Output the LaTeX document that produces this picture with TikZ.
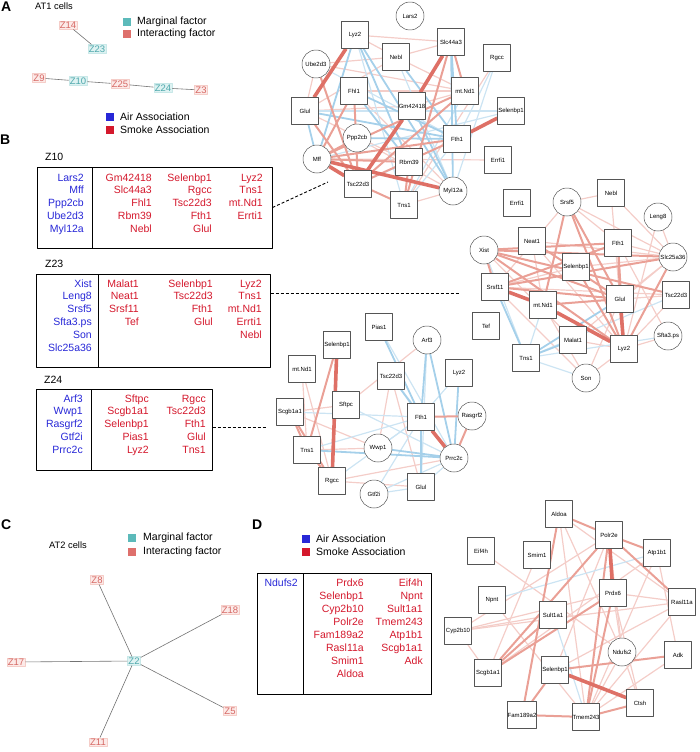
\documentclass[tikz,border=0pt]{standalone}
\usepackage{fontspec}
\setmainfont{Liberation Sans}
\usetikzlibrary{backgrounds}
\definecolor{zred}{RGB}{214,104,100}
\definecolor{zredfill}{RGB}{252,234,232}
\definecolor{zredline}{RGB}{245,205,200}
\definecolor{zteal}{RGB}{78,168,172}
\definecolor{ztealfill}{RGB}{222,242,242}
\definecolor{ztealline}{RGB}{200,232,232}
\definecolor{lteal}{RGB}{92,186,186}
\definecolor{lred}{RGB}{222,112,108}
\definecolor{airblue}{RGB}{40,40,215}
\definecolor{smokered}{RGB}{212,24,44}
\definecolor{ered}{RGB}{222,112,102}
\definecolor{emid}{RGB}{234,160,150}
\definecolor{elight}{RGB}{244,205,200}
\definecolor{eblue}{RGB}{165,208,234}
\definecolor{eblight}{RGB}{204,228,243}
\definecolor{nodegray}{RGB}{85,85,85}
\begin{document}
\begin{tikzpicture}[x=1pt, y=-1pt, line join=round]
\useasboundingbox (0,0) rectangle (700,752);
\tikzstyle{gbox} = [rectangle, draw=nodegray, fill=white, line width=0.5pt, minimum size=27pt, inner sep=0pt, font=\fontsize{6}{7}\selectfont]
\tikzstyle{gcirc} = [circle, draw=nodegray, fill=white, line width=0.5pt, minimum size=28pt, inner sep=0pt, font=\fontsize{6}{7}\selectfont]
\tikzstyle{gtxt} = [anchor=east, inner sep=0pt, text height=8pt, text depth=2pt, font=\fontsize{10.5}{12}\selectfont]
\tikzstyle{ltxt} = [anchor=west, inner sep=0pt, font=\fontsize{10.5}{12}\selectfont]
\tikzstyle{lsq} = [minimum size=8pt, inner sep=0pt]
\tikzstyle{tframe} = [draw, line width=1pt, inner sep=0pt]
\tikzstyle{zr} = [draw=zredline, fill=zredfill, text=zred, inner sep=1pt, font=\fontsize{9.5}{10}\selectfont]
\tikzstyle{zt} = [draw=ztealline, fill=ztealfill, text=zteal, inner sep=1pt, font=\fontsize{9.5}{10}\selectfont]
\tikzstyle{plet} = [anchor=west, inner sep=0pt, font=\fontsize{14}{15}\selectfont\bfseries]
\tikzstyle{e1} = [ered, line width=3.6pt]
\tikzstyle{e2} = [emid, line width=2pt]
\tikzstyle{e3} = [elight, line width=1.2pt]
\tikzstyle{b2} = [eblue, line width=1.8pt]
\tikzstyle{b3} = [eblight, line width=1.2pt]
\tikzstyle{zline} = [gray!90!black, line width=0.6pt]
\tikzstyle{dline} = [dashed, dash pattern=on 3pt off 2pt, line width=0.9pt]

\node[plet] (lA) at (1,7) {A};
\node[plet] (lB) at (0,140) {B};
\node[plet] (lC) at (1,525) {C};
\node[plet] (lD) at (252,525) {D};

\node[ltxt, font=\fontsize{9.3}{11}\selectfont] (at1) at (35,6) {AT1 cells};
\node[lsq, fill=lteal] (A-mk) at (127,22) {};
\node[ltxt] (A-mt) at (137,22) {Marginal factor};
\node[lsq, fill=lred] (A-ik) at (127,34) {};
\node[ltxt] (A-it) at (137,34) {Interacting factor};

\node[zr] (Z14) at (68,25) {Z14};
\node[zt] (Z23) at (97,49) {Z23};
\node[zr] (Z9) at (39,78) {Z9};
\node[zt] (Z10) at (78,81) {Z10};
\node[zr] (Z25) at (120,84) {Z25};
\node[zt] (Z24) at (163,88) {Z24};
\node[zr] (Z3) at (201,90) {Z3};
\foreach \a/\b in {Z14/Z23, Z9/Z10, Z10/Z25, Z25/Z24, Z24/Z3}
	\draw[zline] (\a) -- (\b);

\node[lsq, fill=airblue] (A-ak) at (110,117) {};
\node[ltxt] (A-at) at (120,117) {Air Association};
\node[lsq, fill=smokered] (A-sk) at (110,130) {};
\node[ltxt] (A-st) at (120,130) {Smoke Association};

% Z10 table
\node[ltxt] (H10) at (45,157) {Z10};
\node[tframe, minimum width=235pt, minimum height=81pt] (T10) at (154.5,207.5) {};
\draw[line width=1pt] (92,167) -- (92,248);
\foreach \index/\gene in {1/Lars2, 2/Mff, 3/Ppp2cb, 4/Ube2d3, 5/Myl12a}
	\node[gtxt, text=airblue] (T10-a\index) at (84, 165.2 + 12.8*\index) {\gene};
\foreach \index/\gene in {1/Gm42418, 2/Slc44a3, 3/Fhl1, 4/Rbm39, 5/Nebl}
	\node[gtxt, text=smokered] (T10-b\index) at (152, 165.2 + 12.8*\index) {\gene};
\foreach \index/\gene in {1/Selenbp1, 2/Rgcc, 3/Tsc22d3, 4/Fth1, 5/Glul}
	\node[gtxt, text=smokered] (T10-c\index) at (212, 165.2 + 12.8*\index) {\gene};
\foreach \index/\gene in {1/Lyz2, 2/Tns1, 3/mt.Nd1, 4/Errti1}
	\node[gtxt, text=smokered] (T10-d\index) at (263, 165.2 + 12.8*\index) {\gene};

% Z23 table
\node[ltxt] (H23) at (45,264) {Z23};
\node[tframe, minimum width=234pt, minimum height=93pt] (T23) at (153,320.5) {};
\draw[line width=1pt] (98,274) -- (98,367);
\foreach \index/\gene in {1/Xist, 2/Leng8, 3/Srsf5, 4/Sfta3.ps, 5/Son, 6/Slc25a36}
	\node[gtxt, text=airblue] (T23-a\index) at (92, 271.2 + 12.8*\index) {\gene};
\foreach \index/\gene in {1/Malat1, 2/Neat1, 3/Srsf11, 4/Tef}
	\node[gtxt, text=smokered] (T23-b\index) at (139, 271.2 + 12.8*\index) {\gene};
\foreach \index/\gene in {1/Selenbp1, 2/Tsc22d3, 3/Fth1, 4/Glul}
	\node[gtxt, text=smokered] (T23-c\index) at (213, 271.2 + 12.8*\index) {\gene};
\foreach \index/\gene in {1/Lyz2, 2/Tns1, 3/mt.Nd1, 4/Errti1, 5/Nebl}
	\node[gtxt, text=smokered] (T23-d\index) at (262, 271.2 + 12.8*\index) {\gene};

% Z24 table
\node[ltxt] (H24) at (44,380) {Z24};
\node[tframe, minimum width=176pt, minimum height=81pt] (T24) at (124,429.5) {};
\draw[line width=1pt] (91,389) -- (91,470);
\foreach \index/\gene in {1/Arf3, 2/Wwp1, 3/Rasgrf2, 4/Gtf2i, 5/Prrc2c}
	\node[gtxt, text=airblue] (T24-a\index) at (83, 386.2 + 12.8*\index) {\gene};
\foreach \index/\gene in {1/Sftpc, 2/Scgb1a1, 3/Selenbp1, 4/Pias1, 5/Lyz2}
	\node[gtxt, text=smokered] (T24-b\index) at (149, 386.2 + 12.8*\index) {\gene};
\foreach \index/\gene in {1/Rgcc, 2/Tsc22d3, 3/Fth1, 4/Glul, 5/Tns1}
	\node[gtxt, text=smokered] (T24-c\index) at (206, 386.2 + 12.8*\index) {\gene};

% network Z10
\foreach \gene/\x/\y in {Lyz2/355/35, Nebl/396/57, Slc44a3/451/42, Rgcc/497/58, Fhl1/354/91, Glul/305/111, Gm42418/412/106, Selenbp1/511/111, Fth1/457/139, Rbm39/409/162, Errfi1/498/160, Tsc22d3/358/184, Tns1/404/205}
	\node[gbox] (A-\gene) at (\x,\y) {\gene};
\node[gbox] (A-mtNd1) at (465,91) {mt.Nd1};
\foreach \gene/\x/\y in {Lars2/410/16, Ube2d3/316/64, Ppp2cb/357/138, Mff/317/159, Myl12a/453/191}
	\node[gcirc] (A-\gene) at (\x,\y) {\gene};
\begin{scope}[on background layer]
\foreach \a/\b in {Lyz2/Nebl, Nebl/mtNd1, Nebl/Slc44a3, Ube2d3/Nebl, Ube2d3/mtNd1, Fhl1/mtNd1, Glul/Nebl, Rgcc/Tns1, Myl12a/Tns1, Mff/Errfi1, Glul/Gm42418, Ube2d3/Glul, Lyz2/Slc44a3, Fhl1/Myl12a, Ppp2cb/Myl12a, Glul/Rbm39, Gm42418/mtNd1}
	\draw[e3] (A-\a) -- (A-\b);
\foreach \a/\b in {Glul/Selenbp1, Rgcc/Fth1, Tsc22d3/Rbm39, mtNd1/Tns1, Fth1/Tns1, Mff/Selenbp1, Nebl/Myl12a, Lyz2/Tns1, Ube2d3/Fth1, Rgcc/Myl12a}
	\draw[b3] (A-\a) -- (A-\b);
\foreach \a/\b in {Lyz2/Myl12a, Lyz2/Rbm39, Fhl1/Fth1, Glul/Fth1, Glul/Mff, Slc44a3/Fth1, Slc44a3/Myl12a, Nebl/Fth1, Gm42418/Myl12a, Ppp2cb/Fth1, Lyz2/Mff, Fhl1/Rbm39}
	\draw[b2] (A-\a) -- (A-\b);
\foreach \a/\b in {Mff/Rbm39, Mff/Fth1, Tsc22d3/mtNd1, Tsc22d3/Fth1, Slc44a3/mtNd1, Glul/Tsc22d3, Mff/Fhl1, Fhl1/Tsc22d3, Tsc22d3/Tns1, mtNd1/Mff, Ube2d3/Tsc22d3, Mff/Ppp2cb, Rbm39/Tns1, Slc44a3/Tns1}
	\draw[e2] (A-\a) -- (A-\b);
\foreach \a/\b in {Lyz2/Glul, Slc44a3/Gm42418, Gm42418/Tsc22d3, Selenbp1/Fth1, Mff/Myl12a, Mff/Tsc22d3}
	\draw[e1] (A-\a) -- (A-\b);
\end{scope}

% network Z23
\foreach \gene/\x/\y in {Errfi1/517/203, Nebl/611/193, Neat1/532/241, Fth1/618/243, Selenbp1/576/267, Srsf11/495/287, Tsc22d3/676/295, Glul/620/299, Tef/486/326, Malat1/573/340, Lyz2/624/349, Tns1/526/358}
	\node[gbox] (B-\gene) at (\x,\y) {\gene};
\node[gbox] (B-mtNd1) at (543,305) {mt.Nd1};
\foreach \gene/\x/\y in {Srsf5/567/202, Leng8/658/217, Xist/484/250, Slc25a36/673/257, Son/586/378}
	\node[gcirc] (B-\gene) at (\x,\y) {\gene};
\node[gcirc] (B-Sfta3ps) at (668,336) {Sfta3.ps};
\begin{scope}[on background layer]
\foreach \a/\b in {Neat1/Lyz2, Neat1/Slc25a36, Srsf5/Srsf11, Srsf5/Slc25a36, Srsf5/Fth1, Selenbp1/Slc25a36, Fth1/Slc25a36, Slc25a36/Glul, Lyz2/Sfta3ps, Lyz2/Son, Malat1/Lyz2, Tsc22d3/Lyz2, Nebl/Slc25a36, Nebl/Lyz2, Leng8/Slc25a36, Leng8/Lyz2, Son/Srsf11, Son/mtNd1, Son/Glul, Xist/Malat1, mtNd1/Tsc22d3, Srsf11/Tsc22d3, Malat1/Slc25a36, Selenbp1/Srsf11, Neat1/mtNd1, Srsf5/Nebl, Fth1/Sfta3ps}
	\draw[e3] (B-\a) -- (B-\b);
\foreach \a/\b in {Tns1/Xist, Tns1/Tsc22d3, Tns1/Son, Tns1/mtNd1, Tns1/Sfta3ps}
	\draw[b3] (B-\a) -- (B-\b);
\foreach \a/\b in {Tns1/Srsf11, Tns1/Malat1, Tns1/Glul}
	\draw[b2] (B-\a) -- (B-\b);
\foreach \a/\b in {Fth1/Glul, Srsf5/Glul, Srsf5/Lyz2, Xist/Glul, Xist/Slc25a36, Xist/Fth1, Srsf11/Fth1, Srsf11/Slc25a36, Srsf11/Glul, mtNd1/Glul, Xist/Lyz2, Slc25a36/Lyz2, Fth1/Lyz2, Neat1/Glul, Selenbp1/Lyz2, Xist/Srsf11, Srsf5/mtNd1, Xist/Tsc22d3}
	\draw[e2] (B-\a) -- (B-\b);
\foreach \a/\b in {Srsf11/mtNd1, mtNd1/Lyz2, Glul/Lyz2}
	\draw[e1] (B-\a) -- (B-\b);
\end{scope}

% network Z24
\begin{scope}[every node/.append style={minimum size=25pt, font=\fontsize{5.5}{6}\selectfont}]
\foreach \gene/\x/\y in {Pias1/379/327, Selenbp1/337/345, Tsc22d3/391/376, Lyz2/459/373, Sftpc/346/405, Scgb1a1/290/412, Fth1/421/417, Tns1/307/450, Rgcc/332/481, Glul/421/487}
	\node[gbox] (C-\gene) at (\x,\y) {\gene};
\node[gbox] (C-mtNd1) at (302,369) {mt.Nd1};
\foreach \gene/\x/\y in {Arf3/427/340, Rasgrf2/472/416, Wwp1/378/448, Prrc2c/454/458, Gtf2i/374/494}
	\node[gcirc] (C-\gene) at (\x,\y) {\gene};
\end{scope}
\begin{scope}[on background layer]
\foreach \a/\b in {mtNd1/Tns1, mtNd1/Rgcc, Sftpc/Arf3, Tsc22d3/Glul, Rgcc/Glul, Rgcc/Prrc2c, Tns1/Wwp1, Wwp1/Tsc22d3, Scgb1a1/Wwp1, Sftpc/Scgb1a1}
	\draw[e3] (C-\a) -- (C-\b);
\foreach \a/\b in {Arf3/Glul, Lyz2/Fth1, Fth1/Tns1, Fth1/Scgb1a1, Gtf2i/Fth1, Gtf2i/Prrc2c, Gtf2i/Glul, Rgcc/Fth1, Wwp1/Fth1, Tsc22d3/Prrc2c, Pias1/Prrc2c, Sftpc/Prrc2c, Glul/Prrc2c}
	\draw[b3] (C-\a) -- (C-\b);
\foreach \a/\b in {Pias1/Fth1, Tsc22d3/Fth1, Arf3/Fth1, Arf3/Prrc2c, Lyz2/Prrc2c, Wwp1/Prrc2c, Tns1/Prrc2c, Fth1/Glul}
	\draw[b2] (C-\a) -- (C-\b);
\foreach \a/\b in {Fth1/Rasgrf2, Rasgrf2/Prrc2c, Selenbp1/Tns1, Scgb1a1/Rgcc, Scgb1a1/Tns1, Tns1/Rgcc}
	\draw[e2] (C-\a) -- (C-\b);
\foreach \a/\b in {Selenbp1/Rgcc, Fth1/Prrc2c}
	\draw[e1] (C-\a) -- (C-\b);
\end{scope}

\coordinate (k10) at (328,182);
\coordinate (k23) at (460,293);
\coordinate (k24) at (266,427);
\draw[dline] (T10.east) -- (k10);
\draw[dline] (T23.east |- k23) -- (k23);
\draw[dline] (T24.east |- k24) -- (k24);

% panel C
\node[ltxt, font=\fontsize{9.3}{11}\selectfont] (at2) at (49,545) {AT2 cells};
\node[lsq, fill=lteal] (C-mk) at (132,538) {};
\node[ltxt] (C-mt) at (143,538) {Marginal factor};
\node[lsq, fill=lred] (C-ik) at (132,552) {};
\node[ltxt] (C-it) at (143,552) {Interacting factor};
\begin{scope}[every node/.append style={font=\fontsize{10.5}{11}\selectfont}]
\node[zt] (Z2) at (134,661) {Z2};
\node[zr] (Z8) at (97,580) {Z8};
\node[zr] (Z18) at (230,610) {Z18};
\node[zr] (Z17) at (16,662) {Z17};
\node[zr] (Z5) at (230,711) {Z5};
\node[zr] (Z11) at (98,742) {Z11};
\end{scope}
\foreach \a in {Z8, Z18, Z17, Z5, Z11}
	\draw[zline] (Z2) -- (\a);

% panel D
\node[lsq, fill=airblue] (D-ak) at (306,539) {};
\node[ltxt] (D-at) at (316,539) {Air Association};
\node[lsq, fill=smokered] (D-sk) at (306,552) {};
\node[ltxt] (D-st) at (316,552) {Smoke Association};
\node[tframe, minimum width=174pt, minimum height=121pt] (TD) at (344,633.5) {};
\draw[line width=1pt] (303,573) -- (303,694);
\node[gtxt, text=airblue] (TD-a1) at (298,583) {Ndufs2};
\foreach \index/\gene in {1/Prdx6, 2/Selenbp1, 3/Cyp2b10, 4/Polr2e, 5/Fam189a2, 6/Rasl11a, 7/Smim1, 8/Aldoa}
	\node[gtxt, text=smokered] (TD-b\index) at (364, 570 + 13*\index) {\gene};
\foreach \index/\gene in {1/Eif4h, 2/Npnt, 3/Sult1a1, 4/Tmem243, 5/Atp1b1, 6/Scgb1a1, 7/Adk}
	\node[gtxt, text=smokered] (TD-c\index) at (423, 570 + 13*\index) {\gene};

\begin{scope}[every node/.append style={minimum size=30pt, font=\fontsize{6.5}{7}\selectfont}]
\foreach \gene/\x/\y in {Aldoa/559/514, Polr2e/609/535, Eif4h/481/551, Smim1/537/555, Atp1b1/657/553, Prdx6/613/593, Npnt/492/600, Rasl11a/682/602, Sult1a1/553/615, Cyp2b10/458/631, Adk/678/655, Scgb1a1/488/673, Selenbp1/555/670, Ctsh/640/703, Fam189a2/522/715, Tmem243/586/717}
	\node[gbox] (D-\gene) at (\x,\y) {\gene};
\node[gcirc] (D-Ndufs2) at (622,652) {Ndufs2};
\end{scope}
\begin{scope}[on background layer]
\foreach \a/\b in {Polr2e/Cyp2b10, Prdx6/Cyp2b10, Prdx6/Rasl11a, Aldoa/Tmem243, Aldoa/Ndufs2, Aldoa/Rasl11a, Eif4h/Ndufs2, Cyp2b10/Sult1a1, Cyp2b10/Scgb1a1, Scgb1a1/Atp1b1, Selenbp1/Polr2e, Tmem243/Ndufs2, Tmem243/Rasl11a, Tmem243/Atp1b1, Prdx6/Ndufs2, Ctsh/Ndufs2, Ctsh/Prdx6, Adk/Atp1b1, Adk/Tmem243, Npnt/Tmem243, Smim1/Scgb1a1, Polr2e/Ndufs2, Cyp2b10/Rasl11a, Selenbp1/Rasl11a}
	\draw[e3] (D-\a) -- (D-\b);
\foreach \a/\b in {Sult1a1/Tmem243, Npnt/Atp1b1}
	\draw[b3] (D-\a) -- (D-\b);
\foreach \a/\b in {Polr2e/Rasl11a, Polr2e/Atp1b1, Aldoa/Polr2e, Selenbp1/Adk, Fam189a2/Tmem243, Tmem243/Ctsh, Prdx6/Tmem243, Polr2e/Tmem243, Polr2e/Scgb1a1, Prdx6/Scgb1a1, Sult1a1/Scgb1a1, Aldoa/Fam189a2, Fam189a2/Selenbp1}
	\draw[e2] (D-\a) -- (D-\b);
\foreach \a/\b in {Polr2e/Prdx6, Selenbp1/Ctsh}
	\draw[e1] (D-\a) -- (D-\b);
\end{scope}
\end{tikzpicture}
\end{document}
